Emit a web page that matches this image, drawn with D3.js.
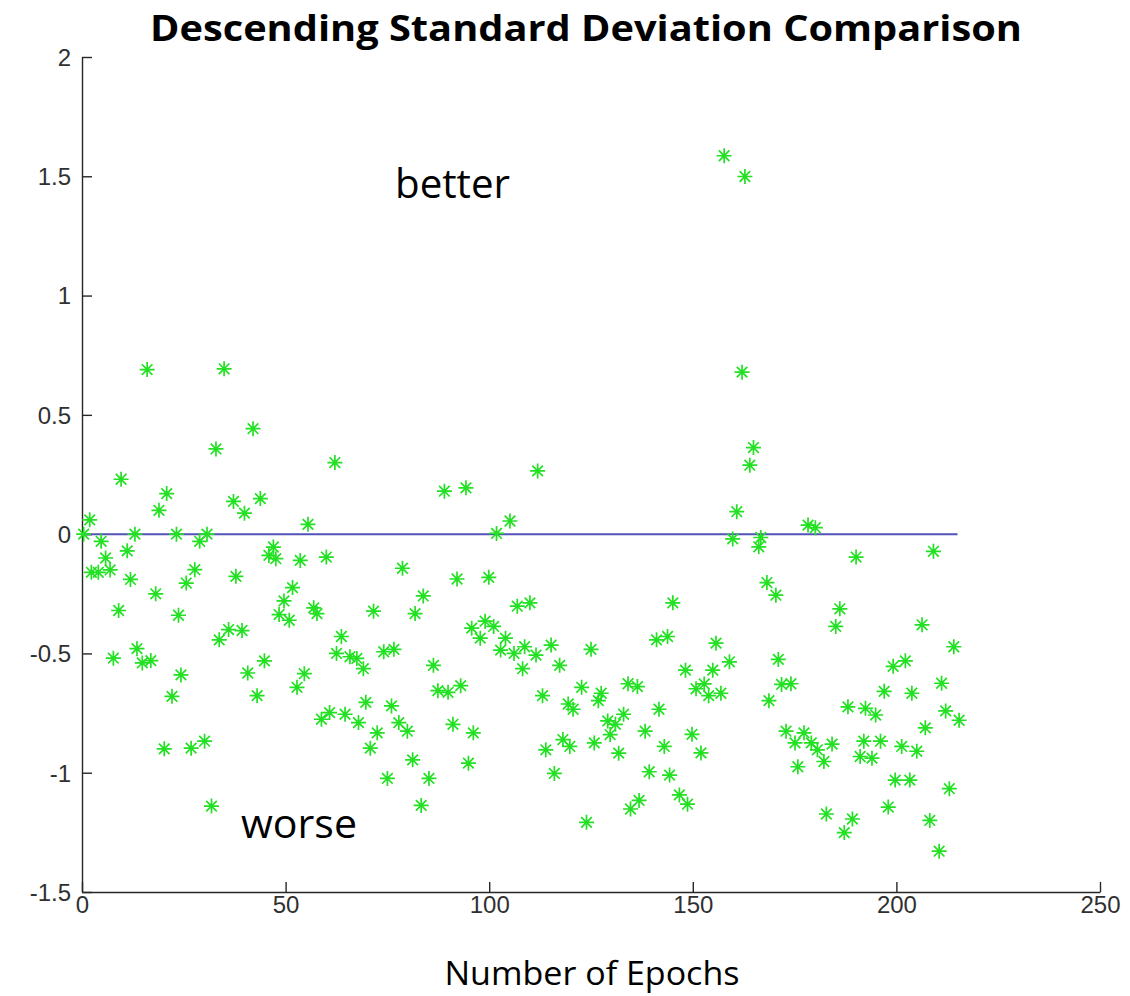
<!DOCTYPE html>
<html>
<head>
<meta charset="utf-8">
<script src="https://cdn.jsdelivr.net/npm/d3@7"></script>
<style>
  html, body { margin: 0; padding: 0; background: #fff; }
  svg { display: block; }
  .tick text { font-family: 'Liberation Sans', Arial, sans-serif; font-size: 24px; fill: #303030; }
</style>
</head>
<body>
<svg id="chart" width="1130" height="996"></svg>
<script>
// Per-epoch difference in descending standard deviation
const epochs = [
  0.4, 1.9, 2.3, 4.0, 4.7, 5.8, 6.9, 7.7, 9.0, 9.6, 11.1, 11.9, 13.0, 13.5, 14.8, 16.0, 16.9, 18.1, 18.9, 20.2,
  20.8, 22.1, 23.2, 23.7, 24.3, 25.6, 26.8, 27.7, 28.9, 30.1, 30.7, 31.8, 32.9, 33.7, 34.9, 36.0, 37.2, 37.8, 39.3, 39.9,
  40.7, 42.0, 43.0, 43.8, 44.8, 45.9, 47.0, 47.6, 48.4, 49.6, 50.9, 51.7, 52.8, 53.6, 54.6, 55.5, 56.9, 57.7, 58.8, 60.0,
  60.8, 62.1, 62.5, 63.7, 64.6, 65.8, 67.5, 67.9, 69.1, 69.7, 70.8, 71.6, 72.5, 74.1, 75.0, 76.0, 76.6, 77.8, 78.7, 79.9,
  81.2, 81.8, 83.3, 83.8, 85.2, 86.3, 87.4, 89.0, 89.9, 91.1, 92.1, 93.0, 94.3, 94.9, 95.7, 96.1, 97.8, 99.0, 99.9, 101.1,
  101.8, 102.8, 104.0, 105.1, 106.1, 106.9, 108.2, 108.7, 110.0, 111.5, 111.9, 113.1, 113.9, 115.2, 116.0, 117.3, 118.1, 119.4, 119.8, 120.6,
  122.7, 123.9, 125.0, 125.8, 126.8, 127.5, 129.1, 129.7, 131.0, 131.8, 133.0, 134.1, 134.7, 136.4, 136.8, 138.3, 139.3, 141.1, 141.7, 143.0,
  143.8, 144.3, 145.1, 146.7, 148.2, 148.7, 149.8, 150.8, 152.0, 152.8, 153.9, 154.9, 155.7, 156.9, 157.7, 159.0, 159.8, 160.8, 162.1, 162.8,
  164.0, 164.9, 166.2, 166.7, 168.2, 168.7, 170.4, 171.0, 171.8, 172.9, 174.1, 175.1, 175.8, 177.3, 178.3, 179.1, 180.1, 180.6, 182.2, 182.8,
  184.2, 185.1, 186.1, 187.2, 188.1, 189.2, 190.1, 191.1, 192.0, 192.4, 194.0, 194.9, 196.1, 197.0, 198.0, 199.2, 199.7, 201.3, 202.2, 203.3,
  203.8, 205.0, 206.3, 207.1, 208.2, 209.1, 210.5, 211.1, 212.1, 213.0, 214.1, 215.4
];
const deviations = [
  0.00, 0.06, -0.16, -0.16, -0.03, -0.10, -0.15, -0.52, -0.32, 0.23, -0.07, -0.19, 0.00, -0.48, -0.54, 0.69, -0.53, -0.25, 0.10, -0.90,
  0.17, -0.68, 0.00, -0.34, -0.59, -0.205, -0.897, -0.149, -0.03, -0.868, 0.00, -1.14, 0.357, -0.443, 0.693, -0.40, 0.137, -0.177, -0.404, 0.088,
  -0.582, 0.442, -0.677, 0.149, -0.531, -0.089, -0.054, -0.103, -0.337, -0.28, -0.361, -0.224, -0.642, -0.11, -0.585, 0.041, -0.309, -0.333, -0.776, -0.096,
  -0.748, 0.30, -0.50, -0.429, -0.755, -0.514, -0.521, -0.79, -0.564, -0.705, -0.897, -0.323, -0.833, -0.493, -1.024, -0.72, -0.483, -0.79, -0.143, -0.826,
  -0.946, -0.333, -1.137, -0.259, -1.024, -0.55, -0.656, 0.18, -0.663, -0.797, -0.188, -0.635, 0.194, -0.96, -0.394, -0.833, -0.436, -0.365, -0.181, -0.387,
  0.003, -0.486, -0.436, 0.055, -0.50, -0.302, -0.564, -0.472, -0.288, -0.507, 0.265, -0.677, -0.904, -0.465, -1.003, -0.55, -0.861, -0.712, -0.89, -0.734,
  -0.642, -1.208, -0.483, -0.875, -0.698, -0.667, -0.783, -0.84, -0.797, -0.918, -0.755, -0.627, -1.152, -0.639, -1.116, -0.826, -0.996, -0.443, -0.734, -0.89,
  -0.429, -1.01, -0.288, -1.093, -0.57, -1.132, -0.839, -0.648, -0.917, -0.628, -0.677, -0.57, -0.457, -0.667, 1.586, -0.535, -0.02, 0.094, 0.679, 1.499,
  0.289, 0.363, -0.053, -0.014, -0.203, -0.698, -0.256, -0.525, -0.63, -0.826, -0.627, -0.875, -0.975, -0.833, 0.038, -0.875, 0.027, -0.904, -0.953, -1.173,
  -0.88, -0.387, -0.313, -1.251, -0.724, -1.194, -0.096, -0.932, -0.868, -0.73, -0.939, -0.758, -0.868, -0.659, -1.144, -0.554, -1.031, -0.89, -0.531, -1.031,
  -0.667, -0.91, -0.38, -0.812, -1.20, -0.072, -1.329, -0.625, -0.741, -1.067, -0.472, -0.78
];

// Zero reference line
const refEpochs = [0, 215];
const refValues = [0, 0];

const xTicks = [0, 50, 100, 150, 200, 250];
const yTicks = [-1.5, -1, -0.5, 0, 0.5, 1, 1.5, 2];

const titleText = "Descending Standard Deviation Comparison";
const xLabelText = "Number of Epochs";
const betterText = "better";
const worseText = "worse";

const svg = d3.select("#chart");
const plotLeft = 82, plotRight = 1100, plotTop = 57, plotBottom = 892;

const x = d3.scaleLinear().domain([0, 250]).range([plotLeft, plotRight]);
const y = d3.scaleLinear().domain([-1.5, 2]).range([plotBottom, plotTop]);

const axisColor = "#262626";

// Axes: ticks point inward
const xAxis = d3.axisBottom(x).tickValues(xTicks).tickSizeInner(-10).tickSizeOuter(0).tickPadding(4)
  .tickFormat(d3.format("d"));
const yAxis = d3.axisLeft(y).tickValues(yTicks).tickSizeInner(-10).tickSizeOuter(0).tickPadding(11)
  .tickFormat(d => String(d));

const gx = svg.append("g").attr("transform", `translate(0,${plotBottom})`).call(xAxis);
const gy = svg.append("g").attr("transform", `translate(${plotLeft},0)`).call(yAxis);

[gx, gy].forEach(g => {
  g.attr("font-size", null).attr("font-family", null);
  g.select(".domain").attr("stroke", axisColor).attr("stroke-width", 1.4);
  g.selectAll(".tick line").attr("stroke", axisColor).attr("stroke-width", 1.4);
  g.selectAll(".tick text").attr("fill", "#303030");
});
gx.selectAll(".tick text").attr("dy", "0.71em");
gy.selectAll(".tick text").attr("dy", "0.35em");

// Reference line at zero
const line = d3.line().x((d, i) => x(refEpochs[i])).y((d, i) => y(refValues[i]));
svg.append("path")
  .datum(refEpochs)
  .attr("d", line)
  .attr("fill", "none")
  .attr("stroke", "#5252b8")
  .attr("stroke-width", 2);

// Asterisk markers
const r = 7.5, rd = 5.3;
const starPath = `M${-r},0H${r}M0,${-r}V${r}M${-rd},${-rd}L${rd},${rd}M${-rd},${rd}L${rd},${-rd}`;
svg.append("g")
  .selectAll("path")
  .data(epochs.map((e, i) => [e, deviations[i]]))
  .join("path")
  .attr("transform", d => `translate(${x(d[0])},${y(d[1])})`)
  .attr("d", starPath)
  .attr("fill", "none")
  .attr("stroke", "#22e022")
  .attr("stroke-width", 1.7);

const textFont = "'Open Sans', 'Noto Sans', sans-serif";

// Title
svg.append("text")
  .attr("x", 586).attr("y", 41)
  .attr("text-anchor", "middle")
  .attr("textLength", 872).attr("lengthAdjust", "spacingAndGlyphs")
  .style("font-family", textFont).style("font-weight", 700).style("font-size", "36px")
  .attr("fill", "#000")
  .text(titleText);

// Annotations
svg.append("text")
  .attr("x", 395).attr("y", 198)
  .attr("textLength", 115).attr("lengthAdjust", "spacingAndGlyphs")
  .style("font-family", textFont).style("font-size", "40px")
  .attr("fill", "#000")
  .text(betterText);

svg.append("text")
  .attr("x", 241).attr("y", 838)
  .attr("textLength", 116).attr("lengthAdjust", "spacingAndGlyphs")
  .style("font-family", textFont).style("font-size", "40px")
  .attr("fill", "#000")
  .text(worseText);

// X axis label
svg.append("text")
  .attr("x", 592).attr("y", 985)
  .attr("text-anchor", "middle")
  .attr("textLength", 295).attr("lengthAdjust", "spacingAndGlyphs")
  .style("font-family", textFont).style("font-size", "32px")
  .attr("fill", "#000")
  .text(xLabelText);
</script>
</body>
</html>
